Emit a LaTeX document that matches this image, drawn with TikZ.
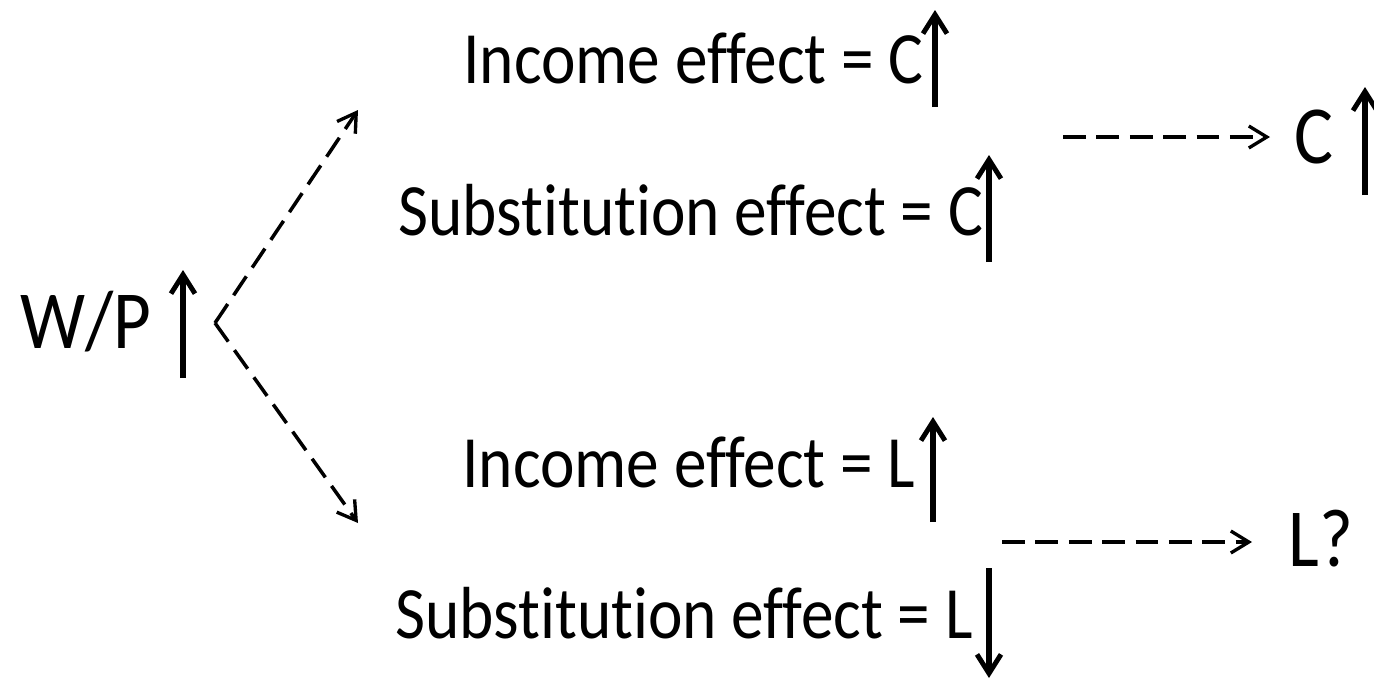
\documentclass[tikz,border=0pt]{standalone}
\usepackage{fontspec}
\setmainfont{Carlito}[FakeStretch=0.885, Ligatures=NoCommon]
\usetikzlibrary{arrows.meta,calc}
\tikzset{
  eff/.style   ={anchor=base west, inner sep=0pt, font=\fontsize{42}{48}\selectfont},
  res/.style   ={anchor=base west, inner sep=0pt, font=\fontsize{47}{54}\selectfont},
  move/.style  ={-{Straight Barb[length=3.8mm, width=4.8mm, line width=2.8pt]}, line width=3pt},
  split/.style ={-{Straight Barb[length=3.6mm, width=4.4mm, line width=1.9pt]}, line width=2pt,
                 dash pattern=on 13pt off 6pt}
}

\begin{document}
\begin{tikzpicture}[x=0.02cm, y=-0.02cm]
  \useasboundingbox (0,0) rectangle (1374,684);

  % texts
  \node[res] (wp)   at (20,348)   {W/P};
  \node[eff] (incC) at (463,83)   {Income effect = C};
  \node[eff] (subC) at (398,235)  {Substitution effect = C};
  \node[eff] (incL) at (462,487)  {Income effect = L};
  \node[eff] (subL) at (395,638)  {Substitution effect = L};
  \node[res] (resC) at (1294,163) {C};
  \node[res] (resL) at (1288,566) {L?};

  % up / down arrows
  \draw[move] (183,378) -- (183,270);
  \draw[move] (935,107) -- (935,10);
  \draw[move] (989,262) -- (989,155);
  \draw[move] (933,522) -- (933,417);
  \draw[move] (989,568) -- (989,678);
  \draw[move] (1365,195) -- (1365,87);

  % split into the two markets
  \coordinate (fork) at (215,323);
  \coordinate (toC)  at (358,110);
  \coordinate (toL)  at (358,523);
  \draw[split] (fork) -- (toC);
  \draw[split] (fork) -- (toL);

  % net effects
  \coordinate (fromC) at (1063,137);
  \coordinate (fromL) at (1002,542);
  \draw[split] (fromC) -- (1270,137);
  \draw[split] (fromL) -- (1252,542);
\end{tikzpicture}
\end{document}
